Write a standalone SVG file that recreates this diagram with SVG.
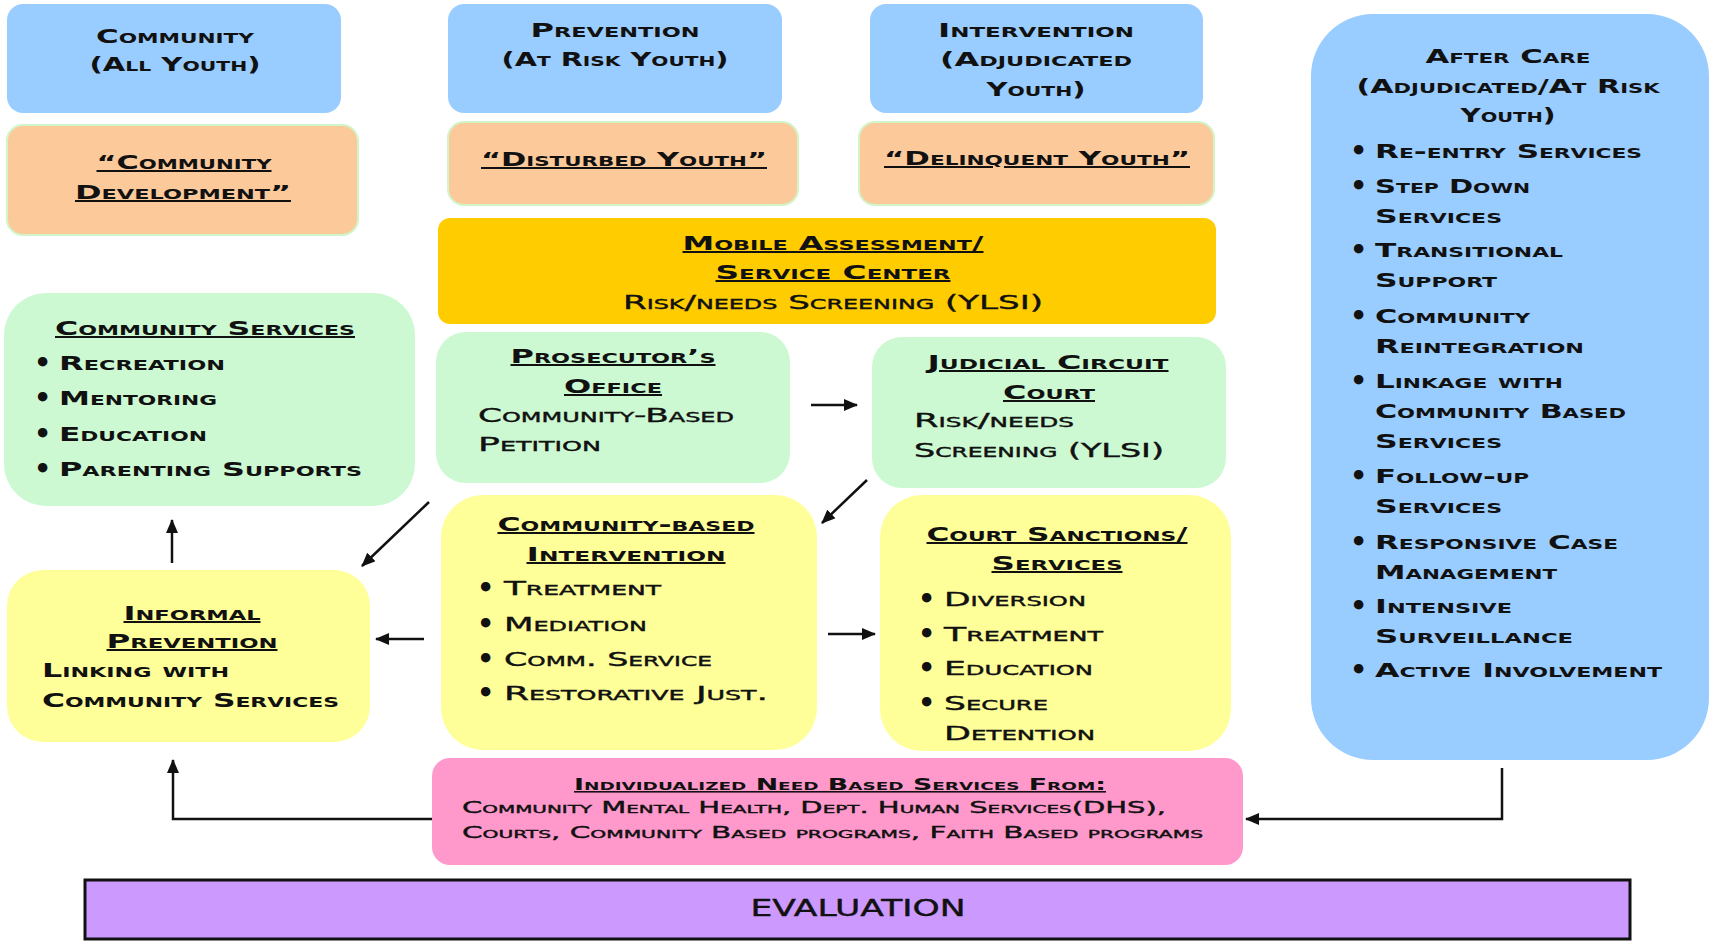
<svg xmlns="http://www.w3.org/2000/svg" width="1711" height="942" viewBox="0 0 1711 942">
<style>
.t{font-family:"DejaVu Sans","Liberation Sans",sans-serif;font-variant:small-caps;font-size:20px;fill:#111}
.b{font-weight:bold}
.n{font-weight:normal;stroke:#111;stroke-width:0.4px}
.u{text-decoration:underline}
.m{text-anchor:middle}
.s{font-size:16px}
.d{font-family:"DejaVu Sans",sans-serif;font-size:27px;font-weight:bold;fill:#111}
.blue{fill:#99ccff}
.peach{fill:#fcc99b;stroke:#d2f5c8;stroke-width:2}
.green{fill:#ccf9d2}
.yellow{fill:#ffff99}
.gold{fill:#ffcc00}
.pink{fill:#ff99cc}
.purple{fill:#cc99ff;stroke:#111;stroke-width:3}
.c{fill:none;stroke:#111;stroke-width:2.5}
</style>
<defs>
<marker id="ah" markerUnits="userSpaceOnUse" markerWidth="14" markerHeight="12" refX="13" refY="6" orient="auto">
<path d="M0,0 L14,6 L0,12 z" fill="#111"/>
</marker>
</defs>
<rect width="1711" height="942" fill="#fff"/>

<g id="community-header">
<rect class="blue" x="7" y="4" width="334" height="109" rx="16"/>
<text class="t b m" x="175" y="43" textLength="158" lengthAdjust="spacingAndGlyphs">Community</text>
<text class="t b m" x="175" y="71" textLength="171" lengthAdjust="spacingAndGlyphs">(All Youth)</text>
</g>
<g id="prevention-header">
<rect class="blue" x="448" y="4" width="334" height="109" rx="16"/>
<text class="t b m" x="615" y="37" textLength="169" lengthAdjust="spacingAndGlyphs">Prevention</text>
<text class="t b m" x="615" y="66" textLength="227" lengthAdjust="spacingAndGlyphs">(At Risk Youth)</text>
</g>
<g id="intervention-header">
<rect class="blue" x="870" y="4" width="333" height="109" rx="16"/>
<text class="t b m" x="1036" y="37" textLength="196" lengthAdjust="spacingAndGlyphs">Intervention</text>
<text class="t b m" x="1036" y="66" textLength="192" lengthAdjust="spacingAndGlyphs">(Adjudicated</text>
<text class="t b m" x="1036" y="96" textLength="99" lengthAdjust="spacingAndGlyphs">Youth)</text>
</g>

<g id="community-development">
<rect class="peach" x="7" y="125" width="351" height="110" rx="16"/>
<text class="t b u m" x="184" y="169" textLength="175" lengthAdjust="spacingAndGlyphs">“Community</text>
<text class="t b u m" x="183" y="199" textLength="216" lengthAdjust="spacingAndGlyphs">Development”</text>
</g>
<g id="disturbed-youth">
<rect class="peach" x="448" y="122" width="350" height="83" rx="16"/>
<text class="t b u m" x="624" y="166" textLength="286" lengthAdjust="spacingAndGlyphs">“Disturbed Youth”</text>
</g>
<g id="delinquent-youth">
<rect class="peach" x="859" y="122" width="355" height="83" rx="16"/>
<text class="t b u m" x="1037" y="165" textLength="306" lengthAdjust="spacingAndGlyphs">“Delinquent Youth”</text>
</g>

<g id="mobile-assessment">
<rect class="gold" x="438" y="218" width="778" height="106" rx="12"/>
<text class="t b u m" x="833" y="250" textLength="301" lengthAdjust="spacingAndGlyphs">Mobile Assessment/</text>
<text class="t b u m" x="833" y="279" textLength="235" lengthAdjust="spacingAndGlyphs">Service Center</text>
<text class="t n m" x="833" y="309" textLength="420" lengthAdjust="spacingAndGlyphs">Risk/needs Screening (YLSI)</text>
</g>

<g id="after-care">
<rect class="blue" x="1311" y="14" width="398" height="746" rx="62"/>
<text class="t b m" x="1508" y="63" textLength="165" lengthAdjust="spacingAndGlyphs">After Care</text>
<text class="t b m" x="1508" y="93" textLength="303" lengthAdjust="spacingAndGlyphs">(Adjudicated/At Risk</text>
<text class="t b m" x="1508" y="122" textLength="95" lengthAdjust="spacingAndGlyphs">Youth)</text>
<text class="d" x="1350" y="160">•</text>
<text class="t b" x="1375" y="158" textLength="267" lengthAdjust="spacingAndGlyphs">Re-entry Services</text>
<text class="d" x="1350" y="195">•</text>
<text class="t b" x="1375" y="193" textLength="155" lengthAdjust="spacingAndGlyphs">Step Down</text>
<text class="t b" x="1375" y="223" textLength="127" lengthAdjust="spacingAndGlyphs">Services</text>
<text class="d" x="1350" y="259">•</text>
<text class="t b" x="1375" y="257" textLength="188" lengthAdjust="spacingAndGlyphs">Transitional</text>
<text class="t b" x="1375" y="287" textLength="122" lengthAdjust="spacingAndGlyphs">Support</text>
<text class="d" x="1350" y="325">•</text>
<text class="t b" x="1375" y="323" textLength="155" lengthAdjust="spacingAndGlyphs">Community</text>
<text class="t b" x="1375" y="353" textLength="209" lengthAdjust="spacingAndGlyphs">Reintegration</text>
<text class="d" x="1350" y="390">•</text>
<text class="t b" x="1375" y="388" textLength="188" lengthAdjust="spacingAndGlyphs">Linkage with</text>
<text class="t b" x="1375" y="418" textLength="251" lengthAdjust="spacingAndGlyphs">Community Based</text>
<text class="t b" x="1375" y="448" textLength="127" lengthAdjust="spacingAndGlyphs">Services</text>
<text class="d" x="1350" y="485">•</text>
<text class="t b" x="1375" y="483" textLength="154" lengthAdjust="spacingAndGlyphs">Follow-up</text>
<text class="t b" x="1375" y="513" textLength="127" lengthAdjust="spacingAndGlyphs">Services</text>
<text class="d" x="1350" y="551">•</text>
<text class="t b" x="1375" y="549" textLength="243" lengthAdjust="spacingAndGlyphs">Responsive Case</text>
<text class="t b" x="1375" y="579" textLength="182" lengthAdjust="spacingAndGlyphs">Management</text>
<text class="d" x="1350" y="615">•</text>
<text class="t b" x="1375" y="613" textLength="137" lengthAdjust="spacingAndGlyphs">Intensive</text>
<text class="t b" x="1375" y="643" textLength="198" lengthAdjust="spacingAndGlyphs">Surveillance</text>
<text class="d" x="1350" y="679">•</text>
<text class="t b" x="1375" y="677" textLength="287" lengthAdjust="spacingAndGlyphs">Active Involvement</text>
</g>

<g id="community-services">
<rect class="green" x="4" y="293" width="411" height="213" rx="42"/>
<text class="t b u m" x="205" y="335" textLength="300" lengthAdjust="spacingAndGlyphs">Community Services</text>
<text class="d" x="34" y="372">•</text>
<text class="t b" x="59" y="370" textLength="166" lengthAdjust="spacingAndGlyphs">Recreation</text>
<text class="d" x="34" y="407">•</text>
<text class="t b" x="59" y="405" textLength="158" lengthAdjust="spacingAndGlyphs">Mentoring</text>
<text class="d" x="34" y="443">•</text>
<text class="t b" x="59" y="441" textLength="148" lengthAdjust="spacingAndGlyphs">Education</text>
<text class="d" x="34" y="478">•</text>
<text class="t b" x="59" y="476" textLength="303" lengthAdjust="spacingAndGlyphs">Parenting Supports</text>
</g>

<g id="prosecutors-office">
<rect class="green" x="436" y="332" width="354" height="151" rx="30"/>
<text class="t b u m" x="613" y="363" textLength="205" lengthAdjust="spacingAndGlyphs">Prosecutor’s</text>
<text class="t b u m" x="613" y="393" textLength="98" lengthAdjust="spacingAndGlyphs">Office</text>
<text class="t n" x="478" y="422" textLength="256" lengthAdjust="spacingAndGlyphs">Community-Based</text>
<text class="t n" x="478" y="451" textLength="123" lengthAdjust="spacingAndGlyphs">Petition</text>
</g>

<g id="judicial-circuit-court">
<rect class="green" x="872" y="337" width="354" height="151" rx="30"/>
<text class="t b u m" x="1048" y="369" textLength="241" lengthAdjust="spacingAndGlyphs">Judicial Circuit</text>
<text class="t b u m" x="1049" y="399" textLength="92" lengthAdjust="spacingAndGlyphs">Court</text>
<text class="t n" x="914" y="427" textLength="160" lengthAdjust="spacingAndGlyphs">Risk/needs</text>
<text class="t n" x="914" y="457" textLength="250" lengthAdjust="spacingAndGlyphs">Screening (YLSI)</text>
</g>

<g id="community-based-intervention">
<rect class="yellow" x="441" y="495" width="376" height="255" rx="42"/>
<text class="t b u m" x="626" y="531" textLength="257" lengthAdjust="spacingAndGlyphs">Community-based</text>
<text class="t b u m" x="626" y="561" textLength="199" lengthAdjust="spacingAndGlyphs">Intervention</text>
<text class="d" x="477" y="597">•</text>
<text class="t n" x="504" y="595" textLength="157" lengthAdjust="spacingAndGlyphs">Treatment</text>
<text class="d" x="477" y="633">•</text>
<text class="t n" x="504" y="631" textLength="143" lengthAdjust="spacingAndGlyphs">Mediation</text>
<text class="d" x="477" y="668">•</text>
<text class="t n" x="504" y="666" textLength="208" lengthAdjust="spacingAndGlyphs">Comm. Service</text>
<text class="d" x="477" y="702">•</text>
<text class="t n" x="504" y="700" textLength="264" lengthAdjust="spacingAndGlyphs">Restorative Just.</text>
</g>

<g id="court-sanctions">
<rect class="yellow" x="880" y="495" width="351" height="256" rx="42"/>
<text class="t b u m" x="1057" y="541" textLength="261" lengthAdjust="spacingAndGlyphs">Court Sanctions/</text>
<text class="t b u m" x="1057" y="570" textLength="131" lengthAdjust="spacingAndGlyphs">Services</text>
<text class="d" x="918" y="608">•</text>
<text class="t n" x="944" y="606" textLength="142" lengthAdjust="spacingAndGlyphs">Diversion</text>
<text class="d" x="918" y="643">•</text>
<text class="t n" x="944" y="641" textLength="159" lengthAdjust="spacingAndGlyphs">Treatment</text>
<text class="d" x="918" y="677">•</text>
<text class="t n" x="944" y="675" textLength="149" lengthAdjust="spacingAndGlyphs">Education</text>
<text class="d" x="918" y="712">•</text>
<text class="t n" x="944" y="710" textLength="104" lengthAdjust="spacingAndGlyphs">Secure</text>
<text class="t n" x="944" y="740" textLength="151" lengthAdjust="spacingAndGlyphs">Detention</text>
</g>

<g id="informal-prevention">
<rect class="yellow" x="7" y="570" width="363" height="172" rx="36"/>
<text class="t b u m" x="192" y="620" textLength="137" lengthAdjust="spacingAndGlyphs">Informal</text>
<text class="t b u m" x="192" y="648" textLength="171" lengthAdjust="spacingAndGlyphs">Prevention</text>
<text class="t b" x="42" y="677" textLength="187" lengthAdjust="spacingAndGlyphs">Linking with</text>
<text class="t b" x="42" y="707" textLength="297" lengthAdjust="spacingAndGlyphs">Community Services</text>
</g>

<g id="individualized-services">
<rect class="pink" x="432" y="758" width="811" height="107" rx="18"/>
<text class="t s b u m" x="840" y="790" textLength="532" lengthAdjust="spacingAndGlyphs">Individualized Need Based Services From:</text>
<text class="t s n" x="462" y="813" textLength="704" lengthAdjust="spacingAndGlyphs">Community Mental Health, Dept. Human Services(DHS),</text>
<text class="t s n" x="462" y="838" textLength="741" lengthAdjust="spacingAndGlyphs">Courts, Community Based programs, Faith Based programs</text>
</g>

<g id="evaluation">
<rect class="purple" x="85" y="880" width="1545" height="59"/>
<text class="t n m" x="858" y="916" style="font-size:23px;font-variant:normal" textLength="215" lengthAdjust="spacingAndGlyphs">EVALUATION</text>
</g>

<g id="connectors">
<line class="c" x1="811" y1="405" x2="857" y2="405" marker-end="url(#ah)"/>
<line class="c" x1="867" y1="480" x2="822" y2="523" marker-end="url(#ah)"/>
<line class="c" x1="429" y1="502" x2="362" y2="566" marker-end="url(#ah)"/>
<line class="c" x1="424" y1="639" x2="376" y2="639" marker-end="url(#ah)"/>
<line class="c" x1="828" y1="634" x2="875" y2="634" marker-end="url(#ah)"/>
<line class="c" x1="172" y1="563" x2="172" y2="520" marker-end="url(#ah)"/>
<polyline class="c" points="432,819 173,819 173,760" marker-end="url(#ah)"/>
<polyline class="c" points="1502,768 1502,819 1246,819" marker-end="url(#ah)"/>
</g>
</svg>
